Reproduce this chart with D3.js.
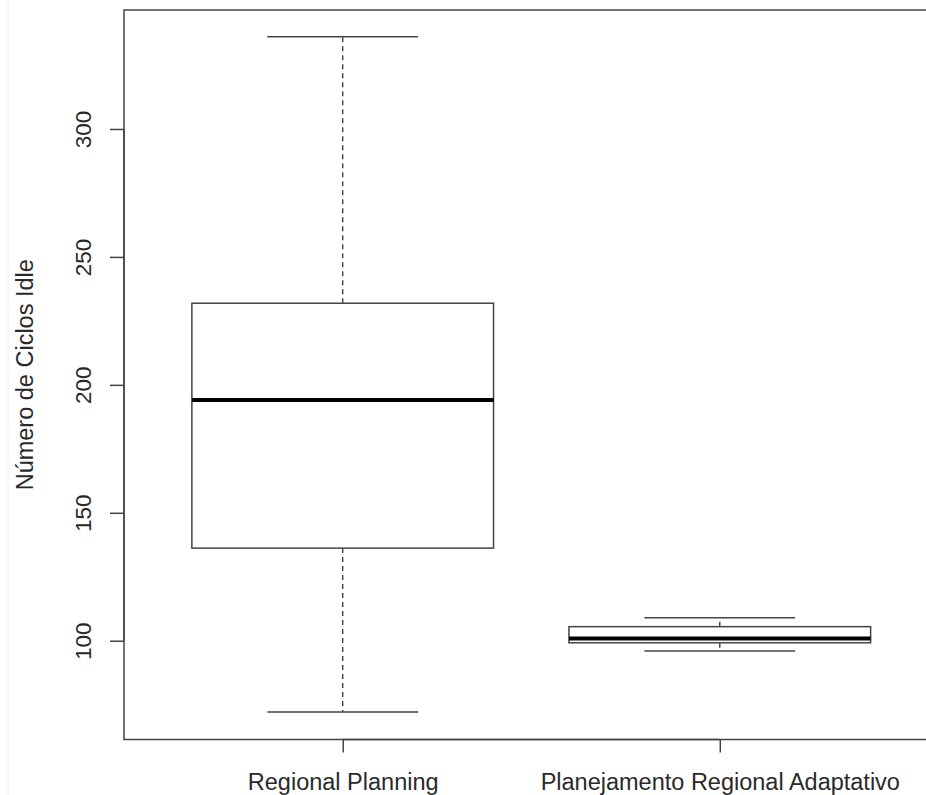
<!DOCTYPE html>
<html>
<head>
<meta charset="utf-8">
<script src="https://cdn.jsdelivr.net/npm/d3@7"></script>
<style>
body { margin: 0; background: #fff; }
text { font-family: "Liberation Sans", Arial, sans-serif; fill: #2a2a2a; }
</style>
</head>
<body>
<div id="chart"></div>
<script>
var categories = ["Regional Planning", "Planejamento Regional Adaptativo"];
var whiskerLow = [72.1, 96.0];
var q1 = [136.2, 99.2];
var median = [194.1, 100.9];
var q3 = [231.9, 105.5];
var whiskerHigh = [336.0, 109.0];
var yTicks = [100, 150, 200, 250, 300];

var w = 926;
var h = 795;

var svg = d3.select("#chart")
			.append("svg")
			.attr("width", w)
			.attr("height", h);

// R style: 4% extension on both axes
var xScale = d3.scaleLinear()
				.domain([0.42, 2.58])
				.range([124, 938.5]);

var yScale = d3.scaleLinear()
				.domain([61.4, 346.5])
				.range([739.5, 10]);

var boxHalf = xScale(1.4) - xScale(1);
var capHalf = boxHalf / 2;

// faint page edge line
svg.append("line")
	.attr("x1", 8).attr("x2", 8)
	.attr("y1", 0).attr("y2", h)
	.attr("stroke", "#eee");

var data = categories.map(function(c, i) {
	return { name: c, pos: i + 1, lo: whiskerLow[i], q1: q1[i], med: median[i], q3: q3[i], hi: whiskerHigh[i] };
});

var groups = svg.selectAll("g.box")
				.data(data)
				.enter()
				.append("g")
				.attr("class", "box");

// dashed whiskers
groups.append("line")
	.attr("x1", function(d) { return xScale(d.pos); })
	.attr("x2", function(d) { return xScale(d.pos); })
	.attr("y1", function(d) { return yScale(d.q3); })
	.attr("y2", function(d) { return yScale(d.hi); })
	.attr("stroke", "#333").attr("stroke-width", 1.3)
	.attr("stroke-dasharray", "5,4");
groups.append("line")
	.attr("x1", function(d) { return xScale(d.pos); })
	.attr("x2", function(d) { return xScale(d.pos); })
	.attr("y1", function(d) { return yScale(d.q1); })
	.attr("y2", function(d) { return yScale(d.lo); })
	.attr("stroke", "#333").attr("stroke-width", 1.3)
	.attr("stroke-dasharray", "5,4");

// caps
["lo", "hi"].forEach(function(k) {
	groups.append("line")
		.attr("x1", function(d) { return xScale(d.pos) - capHalf; })
		.attr("x2", function(d) { return xScale(d.pos) + capHalf; })
		.attr("y1", function(d) { return yScale(d[k]); })
		.attr("y2", function(d) { return yScale(d[k]); })
		.attr("stroke", "#444").attr("stroke-width", 1.5);
});

// boxes
groups.append("rect")
	.attr("x", function(d) { return xScale(d.pos) - boxHalf; })
	.attr("width", boxHalf * 2)
	.attr("y", function(d) { return yScale(d.q3); })
	.attr("height", function(d) { return yScale(d.q1) - yScale(d.q3); })
	.attr("fill", "#fff")
	.attr("stroke", "#444").attr("stroke-width", 1.5);

// medians
groups.append("line")
	.attr("x1", function(d) { return xScale(d.pos) - boxHalf; })
	.attr("x2", function(d) { return xScale(d.pos) + boxHalf; })
	.attr("y1", function(d) { return yScale(d.med); })
	.attr("y2", function(d) { return yScale(d.med); })
	.attr("stroke", "#000").attr("stroke-width", 4);

// frame
svg.append("rect")
	.attr("x", xScale.range()[0])
	.attr("y", yScale.range()[1])
	.attr("width", xScale.range()[1] - xScale.range()[0])
	.attr("height", yScale.range()[0] - yScale.range()[1])
	.attr("fill", "none")
	.attr("stroke", "#444").attr("stroke-width", 1.5);

// y axis
var yAxis = svg.append("g")
	.attr("transform", "translate(" + xScale.range()[0] + ",0)")
	.call(d3.axisLeft(yScale).tickValues(yTicks).tickSize(14).tickSizeOuter(0));
yAxis.select(".domain")
	.attr("d", "M0," + yScale(yTicks[0]) + "V" + yScale(yTicks[yTicks.length - 1]))
	.attr("stroke", "#444").attr("stroke-width", 1.5);
yAxis.selectAll(".tick line").attr("stroke", "#444").attr("stroke-width", 1.5);
yAxis.selectAll(".tick text")
	.attr("x", null).attr("dy", null)
	.attr("text-anchor", "middle")
	.attr("transform", "translate(-33,0) rotate(-90)")
	.style("font-size", "22.5px")
	.style("font-family", "'Liberation Sans', Arial, sans-serif")
	.attr("fill", "#2a2a2a");

// x axis
var xAxis = svg.append("g")
	.attr("transform", "translate(0," + yScale.range()[0] + ")")
	.call(d3.axisBottom(xScale).tickValues([1, 2]).tickSize(13).tickSizeOuter(0)
		.tickFormat(function(d) { return categories[d - 1]; }));
xAxis.select(".domain")
	.attr("d", "M" + xScale(1) + ",0H" + xScale(2))
	.attr("stroke", "#444").attr("stroke-width", 1.5);
xAxis.selectAll(".tick line").attr("stroke", "#444").attr("stroke-width", 1.5);
xAxis.selectAll(".tick text")
	.attr("y", 50).attr("dy", null)
	.style("font-size", "23.5px")
	.style("font-family", "'Liberation Sans', Arial, sans-serif")
	.attr("fill", "#2a2a2a");

// y label, centred on the plot region
var yMid = (yScale.range()[0] + yScale.range()[1]) / 2;
svg.append("text")
	.attr("transform", "translate(33," + yMid + ") rotate(-90)")
	.attr("text-anchor", "middle")
	.style("font-size", "23.5px")
	.text("Número de Ciclos Idle");
</script>
</body>
</html>
